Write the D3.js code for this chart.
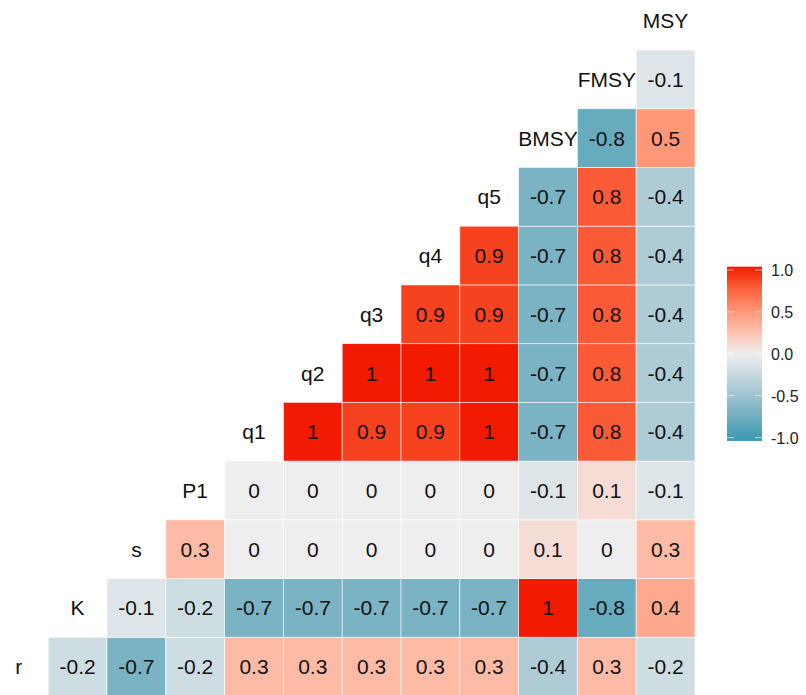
<!DOCTYPE html>
<html>
<head>
<meta charset="utf-8">
<script src="https://cdn.jsdelivr.net/npm/d3@7"></script>
<style>
  body { margin: 0; background: #fff; }
  svg { display: block; font-family: "Liberation Sans", Arial, Helvetica, sans-serif; }
</style>
</head>
<body>
<script>
// variable order (bottom-left to top-right along the diagonal)
const variables = ["r", "K", "s", "P1", "q1", "q2", "q3", "q4", "q5", "BMSY", "FMSY", "MSY"];

// correlations of each variable with every variable after it
const corrR    = [-0.2, -0.7, -0.2, 0.3, 0.3, 0.3, 0.3, 0.3, -0.4, 0.3, -0.2];
const corrK    = [-0.1, -0.2, -0.7, -0.7, -0.7, -0.7, -0.7, 1, -0.8, 0.4];
const corrS    = [0.3, 0, 0, 0, 0, 0, 0.1, 0, 0.3];
const corrP1   = [0, 0, 0, 0, 0, -0.1, 0.1, -0.1];
const corrQ1   = [1, 0.9, 0.9, 1, -0.7, 0.8, -0.4];
const corrQ2   = [1, 1, 1, -0.7, 0.8, -0.4];
const corrQ3   = [0.9, 0.9, -0.7, 0.8, -0.4];
const corrQ4   = [0.9, -0.7, 0.8, -0.4];
const corrQ5   = [-0.7, 0.8, -0.4];
const corrBMSY = [-0.8, 0.5];
const corrFMSY = [-0.1];

const rows = [corrR, corrK, corrS, corrP1, corrQ1, corrQ2, corrQ3, corrQ4, corrQ5, corrBMSY, corrFMSY, []];

const legendTicks = [1, 0.5, 0, -0.5, -1];

const width = 806, height = 695;

const svg = d3.select("body").append("svg")
    .attr("width", width)
    .attr("height", height);

// columns run left to right, rows bottom to top
const x = d3.scaleBand().domain(variables).range([-10.6, 695]).padding(0);
const y = d3.scaleBand().domain(variables.slice().reverse()).range([-8.7, 696]).padding(0);

const color = d3.scaleLinear()
    .domain([-1, 0, 1])
    .range(["#3B9AB2", "#EEEEEE", "#F21A00"])
    .interpolate(d3.interpolateLab)
    .clamp(true);

let cells = [];
rows.forEach((vals, i) => {
    vals.forEach((v, k) => {
        cells.push({ row: variables[i], col: variables[i + 1 + k], value: v });
    });
});

const grid = svg.append("g");

grid.selectAll("rect")
    .data(cells)
    .join("rect")
    .attr("x", d => x(d.col))
    .attr("y", d => y(d.row))
    .attr("width", x.bandwidth())
    .attr("height", y.bandwidth())
    .attr("fill", d => color(d.value))
    .attr("stroke", "#ffffff")
    .attr("stroke-opacity", 0.7)
    .attr("stroke-width", 0.8);

grid.selectAll("text.val")
    .data(cells)
    .join("text")
    .attr("class", "val")
    .attr("x", d => x(d.col) + x.bandwidth() / 2)
    .attr("y", d => y(d.row) + y.bandwidth() / 2)
    .attr("dy", "0.36em")
    .attr("text-anchor", "middle")
    .attr("font-size", 21)
    .attr("fill", "#111")
    .text(d => String(d.value));

// diagonal variable names
grid.selectAll("text.name")
    .data(variables)
    .join("text")
    .attr("class", "name")
    .attr("x", d => x(d) + x.bandwidth() / 2)
    .attr("y", d => y(d) + y.bandwidth() / 2)
    .attr("dy", "0.36em")
    .attr("text-anchor", "middle")
    .attr("font-size", 21)
    .attr("fill", "#111")
    .text(d => d);

// colour bar legend
const ly = d3.scaleLinear().domain([-1, 1]).range([437.6, 270]);
const barX = 727, barW = 35;

const defs = svg.append("defs");
const grad = defs.append("linearGradient")
    .attr("id", "bar")
    .attr("x1", 0).attr("x2", 0)
    .attr("y1", 1).attr("y2", 0);

const ext = 1.04;
d3.range(0, 21).forEach(j => {
    let v = -ext + (2 * ext) * j / 20;
    grad.append("stop")
        .attr("offset", `${j * 5}%`)
        .attr("stop-color", color(v));
});

const legend = svg.append("g");

legend.append("rect")
    .attr("x", barX)
    .attr("y", ly(ext))
    .attr("width", barW)
    .attr("height", ly(-ext) - ly(ext))
    .attr("fill", "url(#bar)");

legend.selectAll("line.tl")
    .data(legendTicks)
    .join("line")
    .attr("class", "tl")
    .attr("x1", barX).attr("x2", barX + 7)
    .attr("y1", d => ly(d)).attr("y2", d => ly(d))
    .attr("stroke", "#fff").attr("stroke-opacity", 0.6);

legend.selectAll("line.tr")
    .data(legendTicks)
    .join("line")
    .attr("class", "tr")
    .attr("x1", barX + barW - 7).attr("x2", barX + barW)
    .attr("y1", d => ly(d)).attr("y2", d => ly(d))
    .attr("stroke", "#fff").attr("stroke-opacity", 0.6);

legend.selectAll("text")
    .data(legendTicks)
    .join("text")
    .attr("x", barX + barW + 9)
    .attr("y", d => ly(d))
    .attr("dy", "0.4em")
    .attr("font-size", 16)
    .attr("fill", "#222")
    .text(d => d3.format(".1f")(d).replace("\u2212", "-"));
</script>
</body>
</html>
